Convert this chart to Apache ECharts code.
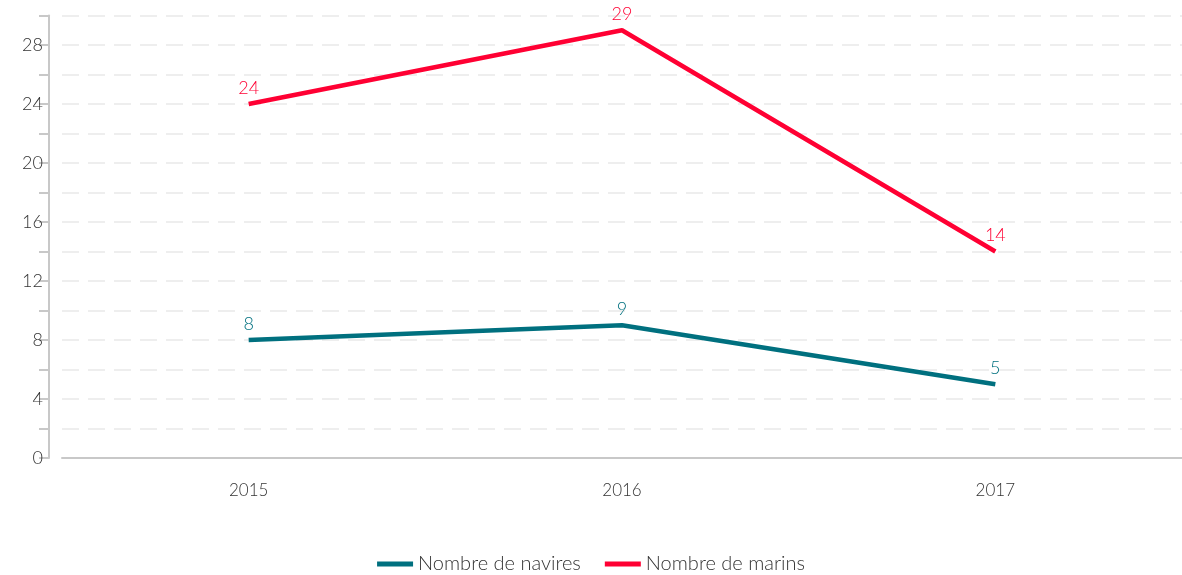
<!DOCTYPE html>
<html><head><meta charset="utf-8">
<script src="https://cdn.jsdelivr.net/npm/echarts@6/dist/echarts.min.js"></script>
<style>html,body{margin:0;padding:0;background:#fff}#c{width:1182px;height:575px}</style>
</head><body><div id="c"></div>
<script>
const categories = ['2015', '2016', '2017'];
const navires = [8, 9, 5];
const marins = [24, 29, 14];
const seriesNames = ['Nombre de navires', 'Nombre de marins'];
const colors = ['#00707f', '#ff0033'];
const font = 'Lato';
const chart = echarts.init(document.getElementById('c'));
function mkSeries(i, data) {
  return {name: seriesNames[i], type: 'line', data: data,
    symbol: 'circle', symbolSize: 0.1, showSymbol: true,
    itemStyle: {color: colors[i], borderWidth: 0},
    lineStyle: {width: 4.5, color: colors[i]},
    label: {show: true, position: 'top', color: colors[i], fontSize: 18, fontFamily: font, fontWeight: 300, distance: 7}};
}
chart.setOption({
  animation: false,
  color: colors,
  textStyle: {fontFamily: font},
  grid: {left: 62, right: 0, top: 15.5, bottom: 117},
  legend: {
    top: 549, left: 'center', itemWidth: 36, itemHeight: 5, itemGap: 24, icon: 'rect',
    textStyle: {fontFamily: font, fontSize: 20, color: '#333', fontWeight: 300},
    data: seriesNames
  },
  xAxis: {
    type: 'category', data: categories, boundaryGap: true,
    axisLine: {lineStyle: {color: '#c8c8c8', width: 2}},
    axisTick: {alignWithLabel: true, length: 10, lineStyle: {color: '#c8c8c8', width: 2}},
    axisLabel: {margin: 24, fontSize: 17, color: '#333', fontFamily: font, fontWeight: 300}
  },
  yAxis: {
    type: 'value', min: 0, max: 30, interval: 2, offset: 13,
    axisLine: {show: true, lineStyle: {color: '#c8c8c8', width: 2}},
    axisTick: {show: true, length: 10, lineStyle: {color: '#c8c8c8', width: 2}},
    axisLabel: {margin: 6, fontSize: 18, color: '#333', fontFamily: font, fontWeight: 300,
      formatter: v => (v % 4 === 0 ? String(v) : '')},
    splitLine: {show: true, lineStyle: {color: '#eeeeee', width: 2, type: [17, 9]}}
  },
  series: [mkSeries(0, navires), mkSeries(1, marins)]
});
</script></body></html>
